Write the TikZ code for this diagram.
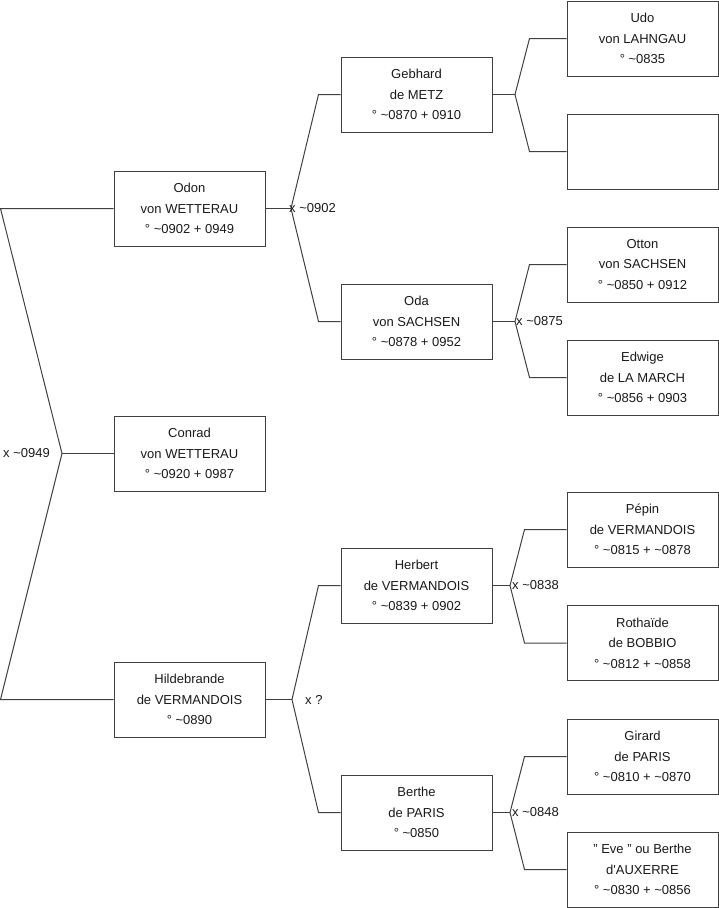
\documentclass[tikz,border=0pt]{standalone}
\usepackage{fontspec}
\setmainfont{Liberation Sans}
\usepackage{tikz}
\usetikzlibrary{positioning,calc}
\definecolor{ink}{HTML}{1A1A1A}
\definecolor{edge}{HTML}{404040}
\newcommand{\circa}{\textasciitilde}
\tikzset{
  pers/.style={rectangle,draw=edge,line width=1pt,fill=white,text=ink,
    align=center,minimum width=151pt,minimum height=75pt,inner sep=0pt,
    font=\fontsize{13}{20.5}\selectfont},
  lnk/.style={draw=edge,line width=1pt},
  mar/.style={font=\fontsize{13}{15}\selectfont,text=ink,inner sep=0pt},
}

\begin{document}
\begin{tikzpicture}[x=1pt,y=-1pt]
  \useasboundingbox (0,0) rectangle (719,908);
  % generation 1
  \node[pers] (odon) at (189.5,208.5) {Odon\\von WETTERAU\\° \circa0902 + 0949};
  \node[pers] (conrad) at (189.5,453.5) {Conrad\\von WETTERAU\\° \circa0920 + 0987};
  \node[pers] (hilde) at (189.5,699.5) {Hildebrande\\de VERMANDOIS\\° \circa0890};
  % generation 2
  \node[pers] (gebhard) at (416.5,94.5) {Gebhard\\de METZ\\° \circa0870 + 0910};
  \node[pers] (oda) at (416.5,321.5) {Oda\\von SACHSEN\\° \circa0878 + 0952};
  \node[pers] (herbert) at (416.5,585.5) {Herbert\\de VERMANDOIS\\° \circa0839 + 0902};
  \node[pers] (berthe) at (416.5,812.5) {Berthe\\de PARIS\\° \circa0850};
  % generation 3
  \node[pers] (udo) at (642.5,38.5) {Udo\\von LAHNGAU\\° \circa0835};
  \node[pers] (unknown) at (642.5,151.5) {};
  \node[pers] (otton) at (642.5,264.5) {Otton\\von SACHSEN\\° \circa0850 + 0912};
  \node[pers] (edwige) at (642.5,377.5) {Edwige\\de LA MARCH\\° \circa0856 + 0903};
  \node[pers] (pepin) at (642.5,529.5) {Pépin\\de VERMANDOIS\\° \circa0815 + \circa0878};
  \node[pers] (rothaide) at (642.5,643) {Rothaïde\\de BOBBIO\\° \circa0812 + \circa0858};
  \node[pers] (girard) at (642.5,756.5) {Girard\\de PARIS\\° \circa0810 + \circa0870};
  \node[pers] (eve) at (642.5,869.5) {" Eve " ou Berthe\\d\textquotesingle AUXERRE\\° \circa0830 + \circa0856};

  % junctions
  \coordinate (rtop) at (0.5,208.5);
  \coordinate (rbot) at (0.5,699.5);
  \coordinate (j0) at (62,453.5);
  \coordinate (j1) at (291,208.5);
  \coordinate (j2) at (515,94.5);
  \coordinate (j3) at (515,321.5);
  \coordinate (j4) at (292,699.5);
  \coordinate (j5) at (510,585.5);
  \coordinate (j6) at (510,812.5);

  % forks
  \draw[lnk] (odon.west) -- (rtop) -- (j0) -- (rbot) -- (hilde.west);
  \draw[lnk] (j0) -- (conrad.west);
  \draw[lnk] (gebhard.west) -- ([xshift=-22]gebhard.west) -- (j1) -- ([xshift=-22]oda.west) -- (oda.west);
  \draw[lnk] (odon.east) -- (j1);
  \draw[lnk] (udo.west) -- ([xshift=-37]udo.west) -- (j2) -- ([xshift=-37]unknown.west) -- (unknown.west);
  \draw[lnk] (gebhard.east) -- (j2);
  \draw[lnk] (otton.west) -- ([xshift=-37]otton.west) -- (j3) -- ([xshift=-37]edwige.west) -- (edwige.west);
  \draw[lnk] (oda.east) -- (j3);
  \draw[lnk] (herbert.west) -- ([xshift=-22]herbert.west) -- (j4) -- ([xshift=-22]berthe.west) -- (berthe.west);
  \draw[lnk] (hilde.east) -- (j4);
  \draw[lnk] (pepin.west) -- ([xshift=-42]pepin.west) -- (j5) -- ([xshift=-42]rothaide.west) -- (rothaide.west);
  \draw[lnk] (herbert.east) -- (j5);
  \draw[lnk] (girard.west) -- ([xshift=-42]girard.west) -- (j6) -- ([xshift=-42]eve.west) -- (eve.west);
  \draw[lnk] (berthe.east) -- (j6);

  % marriages
  \node[mar,anchor=east] (m0) at ([xshift=-12]j0) {x \circa0949};
  \node[mar,anchor=west] (m1) at ([xshift=-2]j1) {x \circa0902};
  \node[mar,anchor=west] (m3) at ([xshift=1]j3) {x \circa0875};
  \node[mar,anchor=west] (m4) at ([xshift=13]j4) {x ?};
  \node[mar,anchor=west] (m5) at ([xshift=2]j5) {x \circa0838};
  \node[mar,anchor=west] (m6) at ([xshift=2]j6) {x \circa0848};
\end{tikzpicture}
\end{document}
